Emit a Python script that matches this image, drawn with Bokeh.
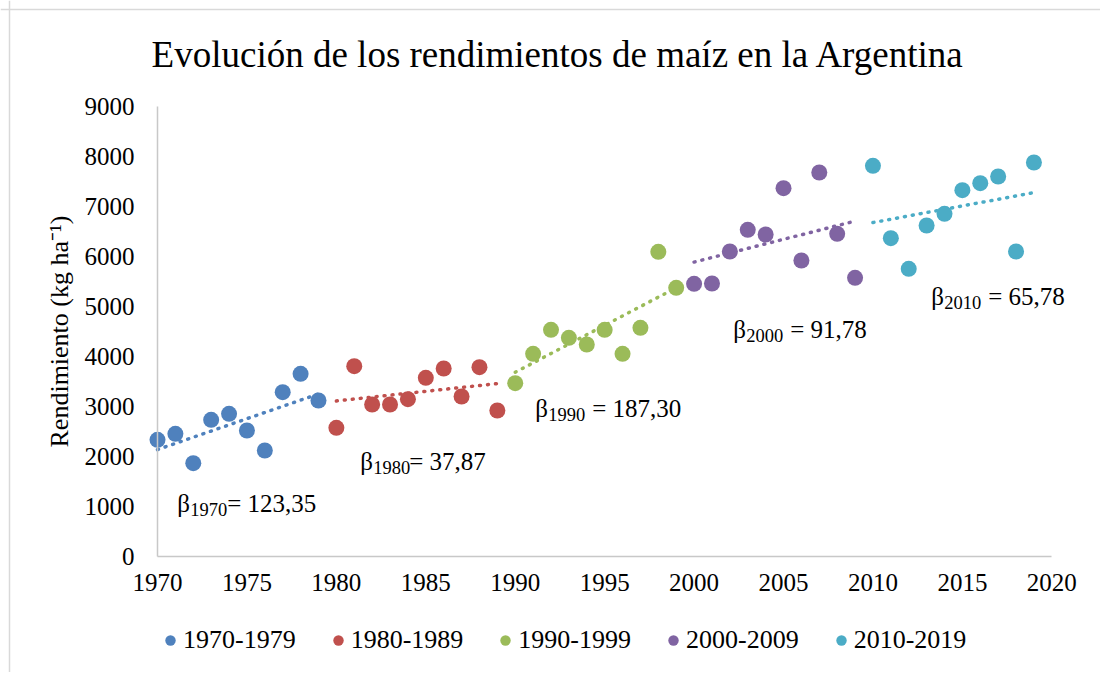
from bokeh.plotting import figure
from bokeh.models import Label, Legend, LegendItem, FixedTicker, Range1d, Span
from bokeh.embed import file_html
from bokeh.resources import INLINE
import numpy as np

# ---------------- data ----------------
decade_labels = ["1970-1979", "1980-1989", "1990-1999", "2000-2009", "2010-2019"]
decade_colors = ["#4f81bd", "#c0504d", "#9bbb59", "#8064a2", "#4bacc6"]

years_1970 = [1970, 1971, 1972, 1973, 1974, 1975, 1976, 1977, 1978, 1979]
yield_1970 = [2334, 2454, 1866, 2734, 2854, 2520, 2120, 3286, 3654, 3120]

years_1980 = [1980, 1981, 1982, 1983, 1984, 1985, 1986, 1987, 1988, 1989]
yield_1980 = [2574, 3806, 3040, 3040, 3146, 3574, 3760, 3200, 3786, 2920]

years_1990 = [1990, 1991, 1992, 1993, 1994, 1995, 1996, 1997, 1998, 1999]
yield_1990 = [3466, 4054, 4534, 4374, 4240, 4534, 4054, 4574, 6094, 5374]

years_2000 = [2000, 2001, 2002, 2003, 2004, 2005, 2006, 2007, 2008, 2009]
yield_2000 = [5454, 5460, 6100, 6534, 6440, 7366, 5920, 7680, 6454, 5574]

years_2010 = [2010, 2011, 2012, 2013, 2014, 2015, 2016, 2017, 2018, 2019]
yield_2010 = [7814, 6366, 5754, 6620, 6854, 7326, 7466, 7600, 6100, 7880]

beta_decades = ["1970", "1980", "1990", "2000", "2010"]
beta_values = ["123,35", "37,87", "187,30", "91,78", "65,78"]

title_text = "Evolución de los rendimientos de maíz en la Argentina"
y_label = "Rendimiento (kg ha⁻¹)"
x_ticks = [1970, 1975, 1980, 1985, 1990, 1995, 2000, 2005, 2010, 2015, 2020]
y_ticks = [0, 1000, 2000, 3000, 4000, 5000, 6000, 7000, 8000, 9000]

series_x = [years_1970, years_1980, years_1990, years_2000, years_2010]
series_y = [yield_1970, yield_1980, yield_1990, yield_2000, yield_2010]

# ---------------- figure ----------------
# The frame covers the whole canvas; both axes are pinned at the data origin
# and limited with bounds, so title, legend and annotations are not clipped.
FONT = "Liberation Serif"
W, H = 1100, 672
X0, X1 = 1961.222, 2022.722
Y0, Y1 = -2320, 11120
p = figure(width=W, height=H, output_backend="svg", toolbar_location=None,
           x_range=Range1d(X0, X1), y_range=Range1d(Y0, Y1),
           min_border_left=0, min_border_right=0, min_border_top=0,
           min_border_bottom=0)
p.outline_line_color = None
p.xgrid.grid_line_color = None
p.ygrid.grid_line_color = None
p.background_fill_color = "white"
p.border_fill_color = "white"

# outer chart-area border (left and top edges visible in the reference)
px_per_x = W / (X1 - X0)
px_per_y = H / (Y1 - Y0)
p.add_layout(Span(location=X0 + 9 / px_per_x, dimension="height",
                  line_color="#d9d9d9", line_width=1.5))
p.add_layout(Span(location=Y1 - 9 / px_per_y, dimension="width",
                  line_color="#d9d9d9", line_width=1.5))

for ax in (p.xaxis[0], p.yaxis[0]):
    ax.axis_line_color = "#c8c8c8"
    ax.axis_line_width = 1.5
    ax.major_tick_line_color = None
    ax.minor_tick_line_color = None
    ax.major_tick_out = 0
    ax.major_tick_in = 0
    ax.major_label_text_font = FONT
    ax.major_label_text_font_size = "25px"
    ax.major_label_text_color = "#000000"

p.xaxis.bounds = (x_ticks[0], x_ticks[-1])
p.xaxis.fixed_location = y_ticks[0]
p.yaxis.bounds = (y_ticks[0], y_ticks[-1])
p.yaxis.fixed_location = x_ticks[0]
p.xaxis.ticker = FixedTicker(ticks=x_ticks)
p.yaxis.ticker = FixedTicker(ticks=y_ticks)
p.xaxis.major_label_standoff = 17
p.yaxis.major_label_standoff = 23
p.yaxis.axis_label = y_label
p.yaxis.axis_label_text_font = FONT
p.yaxis.axis_label_text_font_size = "26px"
p.yaxis.axis_label_text_font_style = "normal"
p.yaxis.axis_label_text_color = "#000000"
p.yaxis.axis_label_standoff = 8

# trend lines (least squares per decade) and points
items = []
for xs, ys, col in zip(series_x, series_y, decade_colors):
    xa = np.array(xs, dtype=float)
    ya = np.array(ys, dtype=float)
    slope, intercept = np.polyfit(xa, ya, 1)
    fit = slope * xa + intercept
    p.line(xa, fit, line_color=col, line_width=3.5, line_dash="1 7", line_cap="round")
for xs, ys, col, lab in zip(series_x, series_y, decade_colors, decade_labels):
    r = p.scatter(xs, ys, size=16, fill_color=col, line_color=None, marker="circle")
    items.append(LegendItem(label=lab, renderers=[r]))

legend = Legend(items=items, orientation="horizontal", location=(157, 15),
                glyph_width=26, glyph_height=34, label_standoff=0, spacing=29,
                padding=0, margin=0, border_line_color=None,
                background_fill_alpha=0,
                label_text_font=FONT, label_text_font_size="26px",
                label_text_color="#000000")
p.add_layout(legend, "center")

# title
p.add_layout(Label(x=1992.40, y=9760, y_offset=14, text=title_text, text_font=FONT,
                   text_font_size="37px", text_align="center",
                   text_baseline="alphabetic", text_color="#000000"))

# beta annotations
beta_x = [1971.10, 1981.33, 1991.12, 2002.19, 2013.26]
beta_y = [860, 1700, 2760, 4340, 5000]
eq_offset = [50, 49, 57, 57, 57]
for bx, by, dec, val, eo in zip(beta_x, beta_y, beta_decades, beta_values, eq_offset):
    common = dict(x=bx, y=by, text_font=FONT, text_baseline="alphabetic",
                  text_color="#000000")
    p.add_layout(Label(text="β", text_font_size="25px", y_offset=10, **common))
    p.add_layout(Label(text=dec, text_font_size="18.5px", x_offset=13, y_offset=4, **common))
    p.add_layout(Label(text="= " + val, text_font_size="25px", x_offset=eo, y_offset=10, **common))

open("out.html", "w").write(file_html(p, INLINE))
